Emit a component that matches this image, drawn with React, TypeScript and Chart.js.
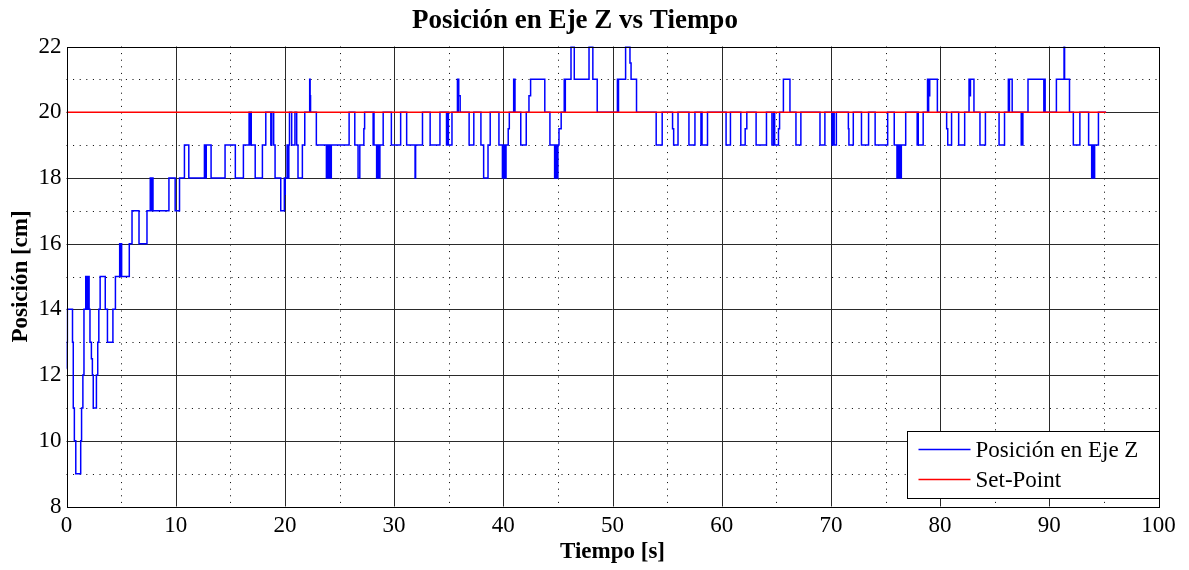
import React, { useEffect, useRef } from "react";
import { Chart, registerables } from "chart.js";

Chart.register(...registerables);

const titulo = "Posición en Eje Z vs Tiempo";
const etiquetaX = "Tiempo [s]";
const etiquetaY = "Posición [cm]";
const nombreSerie = "Posición en Eje Z";
const nombreReferencia = "Set-Point";

const ticksX = [0, 10, 20, 30, 40, 50, 60, 70, 80, 90, 100];
const ticksY = [8, 10, 12, 14, 16, 18, 20, 22];
const rejillaMenorX = [5, 15, 25, 35, 45, 55, 65, 75, 85, 95];
const rejillaMenorY = [9, 11, 13, 15, 17, 19, 21];

const setPoint = 20;
const tiempoReferencia = [0, 95.2];

// Muestras del sensor: [tiempo (s), posición (cm)], retenidas hasta la siguiente muestra
const muestras: [number, number][] = [
  [0, 12.2], [0.04, 13], [0.08, 14], [0.55, 13], [0.62, 11], [0.72, 10], [0.85, 9],
  [1.3, 10], [1.38, 11], [1.5, 12], [1.6, 14],
  [1.76, 15], [1.8, 14], [1.84, 15], [1.88, 14], [1.92, 15], [1.96, 14], [2.0, 15],
  [2.07, 14], [2.15, 13], [2.28, 12.5], [2.37, 12], [2.45, 11], [2.74, 12], [2.86, 13],
  [2.96, 14], [3.08, 15], [3.55, 14], [3.75, 13], [4.25, 14], [4.48, 15],
  [4.87, 16], [4.93, 15], [4.99, 16], [5.05, 15],
  [5.75, 16], [6.0, 17], [6.64, 16], [7.37, 17],
  [7.67, 18], [7.72, 17], [7.77, 18], [7.82, 17], [7.87, 18], [7.92, 17],
  [9.38, 18], [9.95, 17], [10.35, 18], [10.8, 19], [11.2, 18],
  [12.63, 19], [12.68, 18], [12.72, 19], [12.76, 18], [12.8, 19],
  [13.24, 18], [14.52, 19], [15.46, 18], [16.2, 19],
  [16.72, 20], [16.76, 19], [16.8, 20], [16.84, 19], [16.88, 20], [16.92, 19],
  [17.28, 18], [17.94, 19], [18.25, 20], [18.71, 19], [18.8, 20], [18.97, 19],
  [19.1, 18], [19.62, 17], [19.95, 18], [19.99, 17.5], [20.03, 18],
  [20.2, 19], [20.24, 18], [20.28, 19], [20.32, 18], [20.36, 19],
  [20.42, 20], [20.62, 19], [20.92, 20], [21.08, 19], [21.2, 18], [21.6, 19], [21.82, 20],
  [22.27, 21], [22.31, 20.5], [22.35, 20], [22.88, 19],
  [23.8, 18], [23.85, 19], [23.9, 18], [23.95, 19], [24.0, 18], [24.05, 19], [24.1, 18],
  [24.15, 19], [24.2, 18], [24.25, 19],
  [25.88, 20], [26.4, 19], [26.7, 18], [26.86, 19], [27.23, 19.5], [27.3, 20],
  [28.08, 19], [28.12, 20], [28.16, 19],
  [28.4, 18], [28.45, 19], [28.5, 18], [28.55, 19], [28.6, 18], [28.7, 19],
  [29.0, 20], [29.75, 19], [30.6, 20], [31.15, 19], [31.92, 18], [31.97, 19],
  [32.6, 20], [33.3, 19], [34.2, 20], [34.8, 19], [34.92, 20], [34.97, 19], [35.3, 20],
  [35.8, 21], [35.84, 20], [35.88, 21], [35.92, 20.5], [36.05, 20],
  [36.87, 19], [37.3, 20], [37.95, 19], [38.2, 18], [38.6, 19], [38.8, 20], [39.6, 19],
  [39.92, 18], [39.96, 19], [40.0, 18], [40.04, 19], [40.08, 18], [40.14, 19], [40.2, 18],
  [40.25, 19], [40.45, 19.5], [40.55, 20],
  [40.95, 21], [41.0, 20], [41.03, 21], [41.07, 20],
  [41.6, 19], [42.1, 20], [42.35, 20.5], [42.5, 21], [43.8, 20], [44.27, 19],
  [44.7, 18], [44.75, 19], [44.8, 18], [44.86, 19], [44.92, 18], [45.0, 19],
  [45.1, 19.5], [45.3, 20], [45.58, 21], [45.63, 20], [45.68, 21],
  [46.2, 22], [46.5, 21], [47.85, 22], [48.2, 21], [48.6, 20],
  [50.45, 21], [50.5, 20], [50.55, 21], [51.2, 22], [51.6, 21.5], [51.7, 21], [52.2, 20],
  [54.0, 19], [54.55, 20], [55.5, 19.5], [55.6, 19], [56.0, 20], [57.0, 19], [57.55, 20],
  [58.1, 19], [58.15, 20], [58.2, 19], [58.7, 20], [60.4, 19], [60.8, 20],
  [61.75, 19], [62.15, 19.5], [62.3, 20], [63.15, 19], [64.1, 20],
  [64.6, 19], [64.75, 20], [64.85, 19], [65.2, 19.5], [65.3, 20],
  [65.65, 21], [66.25, 20], [66.8, 19], [67.25, 20], [69.0, 19], [69.45, 20],
  [70.1, 19], [70.15, 20], [70.2, 19], [70.25, 20], [70.3, 19], [70.5, 20],
  [71.6, 19.5], [71.65, 19], [72.05, 20], [72.8, 19], [73.45, 20], [74.05, 19], [75.2, 20],
  [75.8, 19], [76.05, 18], [76.1, 19], [76.15, 18], [76.2, 19], [76.25, 18], [76.32, 19],
  [76.38, 18], [76.45, 19], [76.85, 20],
  [77.9, 19], [77.95, 20], [78.0, 19], [78.45, 20],
  [78.85, 21], [78.9, 20], [78.95, 21], [79.0, 20.5], [79.05, 21], [79.75, 20],
  [80.6, 19.5], [80.7, 19], [81.05, 20], [81.7, 19], [82.25, 20],
  [82.65, 21], [82.72, 20.5], [82.78, 21], [83.1, 20], [83.65, 19], [84.15, 20],
  [85.4, 19], [85.9, 20], [86.25, 21], [86.3, 20], [86.35, 21], [86.6, 20],
  [87.43, 19], [87.48, 20], [87.52, 19], [87.58, 20],
  [88.05, 21], [89.5, 20], [89.55, 21], [89.62, 20],
  [90.65, 21], [91.35, 23], [91.4, 21], [91.85, 20], [92.2, 19], [92.8, 20],
  [93.6, 19], [93.88, 18], [93.92, 19], [93.96, 18], [94.0, 19], [94.04, 18], [94.08, 19],
  [94.12, 18], [94.15, 19], [94.5, 20], [95.2, 20],
];

const fuente = '"Liberation Serif", "Times New Roman", serif';
const azul = "rgb(0, 0, 255)";
const rojo = "rgb(255, 0, 0)";
const nombresLeyenda = [nombreSerie, nombreReferencia];
const coloresLeyenda = [azul, rojo];

const rejilla = {
  id: "rejilla",
  beforeDatasetsDraw(chart: any) {
    const { ctx, chartArea: a, scales } = chart;
    const sx = scales.x;
    const sy = scales.y;
    const px = (v: number) => Math.round(sx.getPixelForValue(v)) + 0.5;
    const py = (v: number) => Math.round(sy.getPixelForValue(v)) + 0.5;
    ctx.save();
    ctx.lineWidth = 1;
    ctx.strokeStyle = "#000";
    ctx.setLineDash([1, 5.6]);
    for (const v of rejillaMenorX) {
      ctx.beginPath();
      ctx.moveTo(px(v), a.top);
      ctx.lineTo(px(v), a.bottom);
      ctx.stroke();
    }
    for (const v of rejillaMenorY) {
      ctx.beginPath();
      ctx.moveTo(a.left, py(v));
      ctx.lineTo(a.right, py(v));
      ctx.stroke();
    }
    ctx.setLineDash([]);
    ctx.strokeStyle = "#2a2a2a";
    for (const v of ticksX.slice(1, -1)) {
      ctx.beginPath();
      ctx.moveTo(px(v), a.top);
      ctx.lineTo(px(v), a.bottom);
      ctx.stroke();
    }
    for (const v of ticksY.slice(1, -1)) {
      ctx.beginPath();
      ctx.moveTo(a.left, py(v));
      ctx.lineTo(a.right, py(v));
      ctx.stroke();
    }
    ctx.restore();
  },
  afterDatasetsDraw(chart: any) {
    const { ctx, scales } = chart;
    const l = Math.round(scales.x.getPixelForValue(ticksX[0])) + 0.5;
    const r = Math.round(scales.x.getPixelForValue(ticksX[ticksX.length - 1])) + 0.5;
    const t = Math.round(scales.y.getPixelForValue(ticksY[ticksY.length - 1])) + 0.5;
    const b = Math.round(scales.y.getPixelForValue(ticksY[0])) + 0.5;
    ctx.save();
    ctx.strokeStyle = "#000";
    ctx.lineWidth = 1;
    ctx.strokeRect(l, t, r - l, b - t);
    ctx.restore();
  },
};

const encabezado = {
  id: "encabezado",
  afterDraw(chart: any) {
    const { ctx } = chart;
    ctx.save();
    ctx.fillStyle = "#000";
    ctx.font = `bold 27px ${fuente}`;
    ctx.textAlign = "center";
    ctx.textBaseline = "middle";
    ctx.fillText(titulo, 575, 21);
    ctx.restore();
  },
};

const leyenda = {
  id: "leyenda",
  afterDraw(chart: any) {
    const { ctx, chartArea: a } = chart;
    const ancho = 252;
    const alto = 67;
    const x0 = Math.round(a.right) + 0.5 - ancho;
    const y0 = Math.round(a.bottom) - 75.5;
    ctx.save();
    ctx.fillStyle = "#fff";
    ctx.fillRect(x0, y0, ancho, alto);
    ctx.strokeStyle = "#000";
    ctx.lineWidth = 1;
    ctx.strokeRect(x0, y0, ancho, alto);
    ctx.font = `23px ${fuente}`;
    ctx.textBaseline = "middle";
    ctx.textAlign = "left";
    nombresLeyenda.forEach((nombre, i) => {
      const yy = y0 + 18 + i * 30;
      ctx.strokeStyle = coloresLeyenda[i];
      ctx.lineWidth = 1.5;
      ctx.beginPath();
      ctx.moveTo(x0 + 11, yy);
      ctx.lineTo(x0 + 63, yy);
      ctx.stroke();
      ctx.fillStyle = "#000";
      ctx.fillText(nombre, x0 + 68, yy + 1);
    });
    ctx.restore();
  },
};

export default function App() {
  const ref = useRef<HTMLCanvasElement | null>(null);

  useEffect(() => {
    if (!ref.current) return;
    const chart = new Chart(ref.current, {
      type: "line",
      data: {
        datasets: [
          {
            label: nombreSerie,
            data: muestras.map(([x, y]) => ({ x, y })),
            borderColor: azul,
            borderWidth: 1.5,
            pointRadius: 0,
            stepped: "before",
            fill: false,
            order: 1,
          },
          {
            label: nombreReferencia,
            data: tiempoReferencia.map((x) => ({ x, y: setPoint })),
            borderColor: rojo,
            borderWidth: 1.6,
            pointRadius: 0,
            fill: false,
            order: 0,
          },
        ],
      },
      options: {
        responsive: false,
        animation: false,
        events: [],
        layout: { padding: { left: 0, right: 30.5, top: 46.5, bottom: 0 } },
        plugins: {
          legend: { display: false },
          tooltip: { enabled: false },
          title: { display: false },
        },
        scales: {
          x: {
            type: "linear",
            min: ticksX[0],
            max: ticksX[ticksX.length - 1],
            afterBuildTicks: (s: any) => {
              s.ticks = ticksX.map((value) => ({ value }));
            },
            afterFit: (s: any) => {
              s.height = 63.5;
            },
            grid: { display: false, drawTicks: false },
            border: { display: false },
            ticks: {
              color: "#000",
              font: { family: fuente, size: 23 },
              padding: 6,
              maxRotation: 0,
              autoSkip: false,
            },
            title: {
              display: true,
              text: etiquetaX,
              color: "#000",
              font: { family: fuente, size: 23, weight: "bold" },
              padding: { top: 0, bottom: 4 },
            },
          },
          y: {
            type: "linear",
            min: ticksY[0],
            max: ticksY[ticksY.length - 1],
            afterBuildTicks: (s: any) => {
              s.ticks = ticksY.map((value) => ({ value }));
            },
            afterFit: (s: any) => {
              s.width = 66.5;
            },
            grid: { display: false, drawTicks: false },
            border: { display: false },
            ticks: {
              color: "#000",
              font: { family: fuente, size: 23 },
              padding: 5,
              autoSkip: false,
            },
            title: {
              display: true,
              text: etiquetaY,
              color: "#000",
              font: { family: fuente, size: 23, weight: "bold" },
              padding: { top: 7, bottom: 0 },
            },
          },
        },
      },
      plugins: [rejilla, encabezado, leyenda],
    });
    return () => chart.destroy();
  }, []);

  return (
    <div style={{ position: "absolute", left: 0, top: 0, width: 1189, height: 570, background: "#fff" }}>
      <canvas ref={ref} width={1189} height={570} style={{ display: "block" }} />
    </div>
  );
}
